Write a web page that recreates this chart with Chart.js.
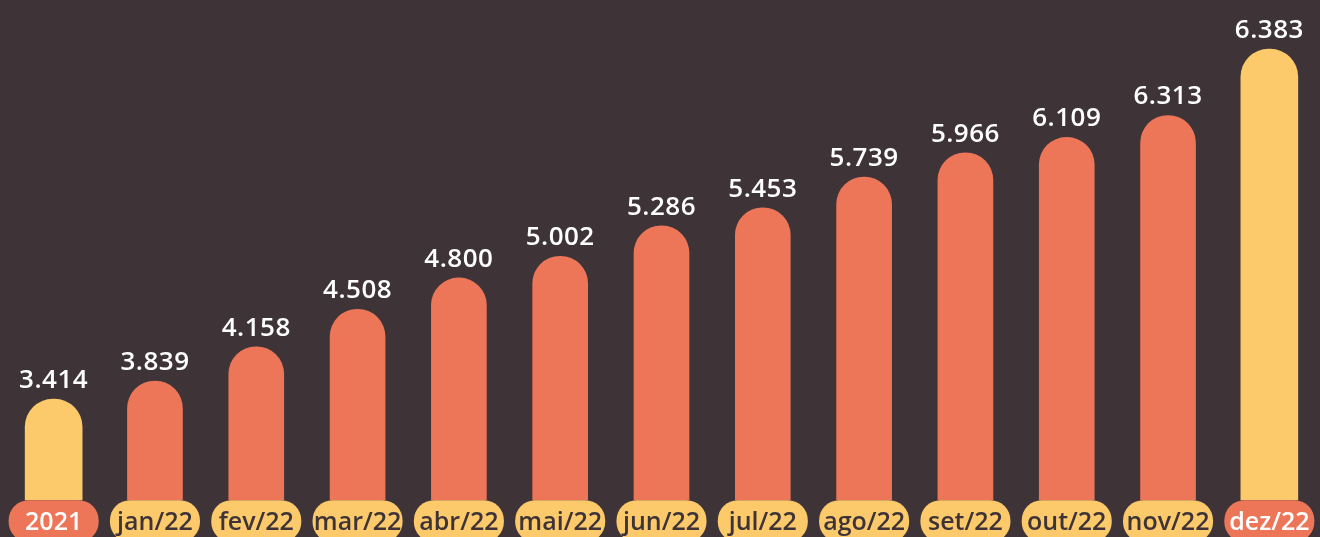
<!DOCTYPE html>
<html>
<head>
<meta charset="utf-8">
<script src="https://cdn.jsdelivr.net/npm/chart.js@4.4.1/dist/chart.umd.min.js"></script>
<style>
  html, body { margin: 0; padding: 0; background: #3E3438; }
  #wrap { position: relative; width: 1320px; height: 537px; }
</style>
</head>
<body>
<div id="wrap"><canvas id="c"></canvas></div>
<script>
// ---- data ----
const categories = ['2021', 'jan/22', 'fev/22', 'mar/22', 'abr/22', 'mai/22', 'jun/22', 'jul/22', 'ago/22', 'set/22', 'out/22', 'nov/22', 'dez/22'];
const values = [3414, 3839, 4158, 4508, 4800, 5002, 5286, 5453, 5739, 5966, 6109, 6313, 6383];
const highlighted = ['2021', 'dez/22'];

// ---- styles ----
const SALMON = '#ED7659';
const YELLOW = '#FCC96B';
const DARK = '#3E3438';
const FONT = '"Open Sans", "Noto Sans", sans-serif';

const isHi = (i) => highlighted.includes(categories[i]);
const regularData = values.map((v, i) => isHi(i) ? null : v);
const highlightData = values.map((v, i) => isHi(i) ? v : null);

const fmt = (v) => String(v).replace(/\B(?=(\d{3})+(?!\d))/g, '.');

const pillPlugin = {
  id: 'pills',
  afterDatasetsDraw(chart) {
    const ctx = chart.ctx;
    const xs = chart.scales.x;
    const top = chart.chartArea.bottom;
    // value labels
    ctx.save();
    ctx.fillStyle = '#FFFFFF';
    ctx.font = '600 26px ' + FONT;
    ctx.textAlign = 'center';
    ctx.textBaseline = 'alphabetic';
    if ('letterSpacing' in ctx) ctx.letterSpacing = '0.5px';
    chart.data.datasets.forEach((ds, di) => {
      const meta = chart.getDatasetMeta(di);
      meta.data.forEach((el, i) => {
        const v = ds.data[i];
        if (v === null || v === undefined) return;
        ctx.fillText(fmt(v), el.x, el.y - 11);
      });
    });
    ctx.restore();
    // label pills
    ctx.save();
    categories.forEach((c, i) => {
      const x = xs.getPixelForTick(i);
      const w = 90, h = 42, r = 20;
      ctx.beginPath();
      ctx.roundRect(x - w / 2, top, w, h, r);
      ctx.fillStyle = isHi(i) ? SALMON : YELLOW;
      ctx.fill();
    });
    ctx.restore();
  }
};

new Chart(document.getElementById('c'), {
  type: 'bar',
  data: {
    labels: categories,
    datasets: [
      {
        data: regularData,
        yAxisID: 'y',
        backgroundColor: SALMON,
        barThickness: 55,
        borderRadius: { topLeft: 28, topRight: 28, bottomLeft: 0, bottomRight: 0 },
        borderSkipped: false,
        grouped: false
      },
      {
        data: highlightData,
        yAxisID: 'y2',
        backgroundColor: YELLOW,
        barThickness: 57,
        borderRadius: { topLeft: 28, topRight: 28, bottomLeft: 0, bottomRight: 0 },
        borderSkipped: false,
        grouped: false
      }
    ]
  },
  options: {
    responsive: true,
    maintainAspectRatio: false,
    animation: false,
    layout: { padding: { left: 3, right: 0, top: 0, bottom: -8 } },
    plugins: { legend: { display: false }, tooltip: { enabled: false } },
    scales: {
      x: {
        grid: { display: false, drawTicks: false },
        border: { display: false },
        ticks: {
          z: 1,
          padding: 8,
          maxRotation: 0,
          autoSkip: false,
          font: { family: FONT, size: 25, weight: '600', lineHeight: 1.152 },
          color: (c) => isHi(c.index) ? '#FFFFFF' : DARK
        }
      },
      y: { display: false, min: 2729, max: 7389 },
      y2: { display: false, min: 2557, max: 6800 }
    }
  },
  plugins: [pillPlugin]
});
</script>
</body>
</html>
